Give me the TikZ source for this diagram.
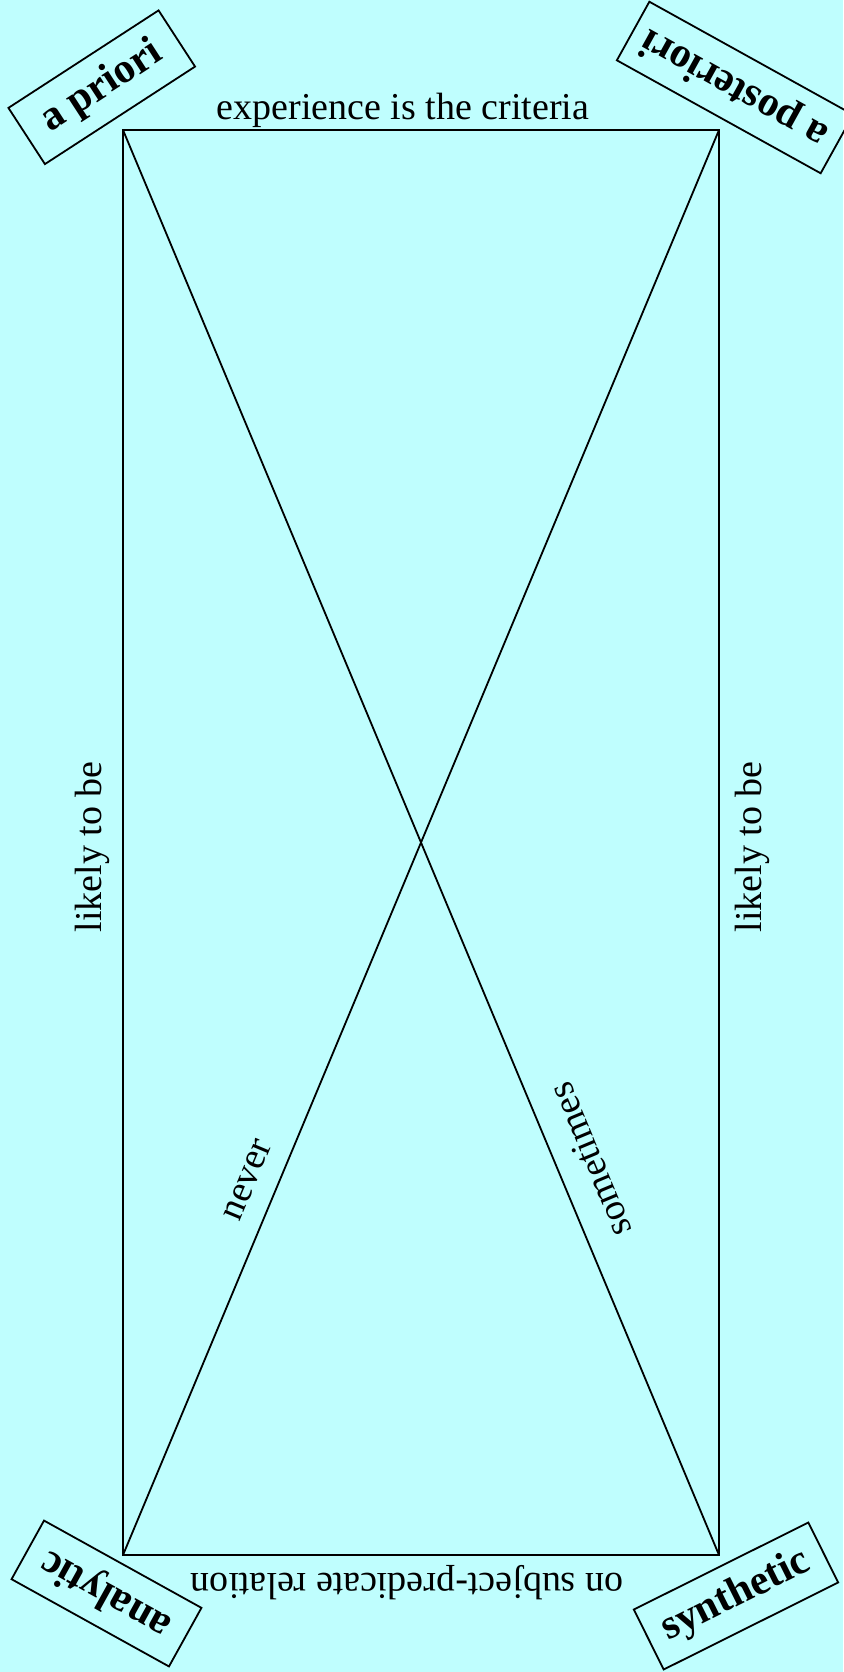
\documentclass[tikz,border=0pt]{standalone}
\usepackage{fontspec}
\setmainfont{Liberation Serif}
\definecolor{bg}{RGB}{191,254,254}
\tikzset{
  lbl/.style={font=\fontsize{38}{42}\selectfont, inner sep=0pt},
  tag/.style={draw, line width=1.8pt, font=\fontsize{42}{46}\selectfont\bfseries, minimum height=67pt, inner sep=0pt},
  edge/.style={line width=1.8pt}
}
\begin{document}
\begin{tikzpicture}[x=1pt,y=-1pt]
\fill[bg] (0,0) rectangle (843,1672);
\useasboundingbox (0,0) rectangle (843,1672);
\coordinate (TL) at (123,130);
\coordinate (TR) at (719,130);
\coordinate (BL) at (123,1555);
\coordinate (BR) at (719,1555);
\draw[edge] (TL) -- (TR) -- (BR) -- (BL) -- cycle;
\draw[edge] (TL) -- (BR);
\draw[edge] (BL) -- (TR);
\node[tag, minimum width=179pt, rotate=33] (apriori) at (101.75,87.25) {a priori};
\node[tag, minimum width=233pt, rotate=151] (apost) at (735,87.5) {a posteriori};
\node[tag, minimum width=180pt, rotate=151] (analytic) at (106.5,1593.5) {analytic};
\node[tag, minimum width=195pt, rotate=26.5] (synthetic) at (736,1596) {synthetic};
\node[lbl, anchor=base] (exp) at (403,120) {experience is the criteria};
\node[lbl, anchor=base, rotate=180] (subj) at (407,1573) {on subject-predicate relation};
\node[lbl, anchor=base, rotate=90] (likL) at (101.7,847) {likely to be};
\node[lbl, anchor=base, rotate=90] (likR) at (761.7,847) {likely to be};
\node[lbl, rotate=67.3] (never) at (248,1180) {never};
\node[lbl, rotate=112.7] (sometimes) at (590,1160) {sometimes};
\end{tikzpicture}
\end{document}
